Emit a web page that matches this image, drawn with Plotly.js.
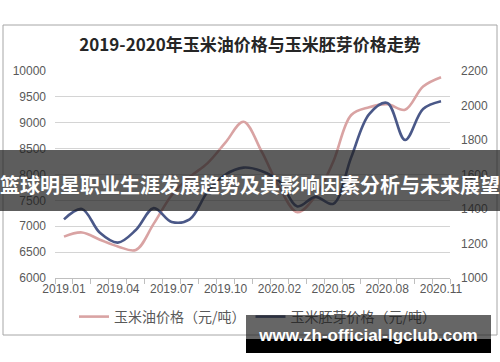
<!DOCTYPE html>
<html>
<head>
<meta charset="utf-8">
<script src="https://cdn.plot.ly/plotly-3.0.1.min.js"></script>
<style>
  html, body { margin: 0; padding: 0; background: #fff; }
  #wrap { position: relative; width: 500px; height: 362px; overflow: hidden; }
  #chart { position: absolute; left: 0; top: 0; width: 500px; height: 362px; }
  .banner { position: absolute; left: 0; top: 150px; width: 500px; height: 61px; background: rgba(30,30,30,0.72); }
  .bannerText { position: absolute; left: 0; top: 172px; width: 500px; height: 26px; line-height: 26px; text-align: center; color: #fff; font-family: "Noto Sans CJK SC", sans-serif; font-weight: bold; font-size: 20px; white-space: nowrap; }
  .wmTop { position: absolute; left: 246px; top: 315px; width: 245px; height: 24px; background: rgba(30,30,30,0.68); }
  .wmBot { position: absolute; left: 246px; top: 339px; width: 245px; height: 14px; background: #000; }
  .wmText { position: absolute; left: 246px; top: 326px; width: 245px; height: 20px; line-height: 20px; text-align: center; color: #fff; font-family: "Liberation Sans", Arial, sans-serif; font-weight: bold; font-size: 17px; white-space: nowrap; }
</style>
</head>
<body>
<div id="wrap">
  <div id="chart"></div>
  <div class="banner"></div>
  <div class="bannerText">篮球明星职业生涯发展趋势及其影响因素分析与未来展望</div>
  <div class="wmTop"></div>
  <div class="wmBot"></div>
  <div class="wmText">www.zh-official-lgclub.com</div>
</div>
<script>
const months = ['2019.01','2019.02','2019.03','2019.04','2019.05','2019.06','2019.07','2019.08','2019.09','2019.10','2019.11','2019.12',
                '2020.02','2020.03','2020.04','2020.05','2020.06','2020.07','2020.08','2020.09','2020.10','2020.11'];
const tickLabels = ['2019.01','','','2019.04','','','2019.07','','','2019.10','','',
                    '2020.02','','','2020.05','','','2020.08','','','2020.11'];
const oilPrice  = [6800,6880,6740,6610,6540,7050,7600,7950,8220,8620,9020,8450,7750,7270,7580,8250,9150,9300,9360,9250,9700,9880];
const germPrice = [1340,1400,1262,1205,1278,1405,1325,1340,1500,1600,1640,1620,1560,1415,1470,1430,1700,1950,2015,1800,1980,2025];
const seriesNames = ['玉米油价格（元/吨）','玉米胚芽价格（元/吨）'];
const titleText = '2019-2020年玉米油价格与玉米胚芽价格走势';

const traces = [
  { x: months, y: oilPrice, name: seriesNames[0], type: 'scatter', mode: 'lines',
    line: { color: '#d9a3a3', width: 2.6, shape: 'spline', smoothing: 1 }, yaxis: 'y' },
  { x: months, y: germPrice, name: seriesNames[1], type: 'scatter', mode: 'lines',
    line: { color: '#4a5888', width: 2.6, shape: 'spline', smoothing: 1 }, yaxis: 'y2' }
];

const px = v => (v - 55) / 395;
const py = v => (278 - v) / 207;

const layout = {
  width: 500, height: 362,
  margin: { l: 55, r: 50, t: 71, b: 84 },
  paper_bgcolor: '#fff', plot_bgcolor: '#fff',
  font: { family: '"Liberation Sans", Arial, sans-serif', color: '#595959', size: 12 },
  title: { text: titleText, font: { family: '"Noto Sans CJK SC", sans-serif', size: 17, color: '#262626', weight: 'bold' },
           x: 0.5, xref: 'container', xanchor: 'center', y: 1 - 45/362, yref: 'container', yanchor: 'middle' },
  showlegend: true,
  legend: { orientation: 'h', x: 0.515, xref: 'container', xanchor: 'center', y: 1 - 317/362, yref: 'container', yanchor: 'middle',
            font: { family: '"Noto Sans CJK SC", sans-serif', size: 14, color: '#595959' }, itemwidth: 30, tracegroupgap: 0, bgcolor: 'rgba(0,0,0,0)' },
  xaxis: { type: 'category', range: [-0.5, 21.5], tickmode: 'array', tickvals: months, ticktext: tickLabels,
           tickson: 'boundaries', ticks: 'outside', ticklen: 5, tickcolor: '#bfbfbf', showline: true, linecolor: '#bfbfbf', linewidth: 1,
           showgrid: false, zeroline: false, tickangle: 0, tickfont: { size: 12, color: '#595959' }, fixedrange: true },
  yaxis: { range: [6000, 10000], tick0: 6000, dtick: 500, tickformat: 'd', exponentformat: 'none', showgrid: true, gridcolor: '#d4d4d4', gridwidth: 1, zeroline: false,
           showline: false, ticks: '', ticklabelstandoff: 8, tickfont: { size: 12, color: '#595959' }, fixedrange: true },
  yaxis2: { range: [1000, 2200], tick0: 1000, dtick: 200, tickformat: 'd', overlaying: 'y', side: 'right', showgrid: false, zeroline: false,
            showline: false, ticks: '', ticklabelstandoff: 10, tickfont: { size: 12, color: '#595959' }, fixedrange: true },
  shapes: [
    { type: 'rect', xref: 'paper', yref: 'paper', x0: px(3), x1: px(497), y0: py(25), y1: py(335),
      line: { color: '#a6a6a6', width: 1 }, fillcolor: 'rgba(0,0,0,0)', layer: 'below' }
  ]
};

Plotly.newPlot('chart', traces, layout, { displayModeBar: false, staticPlot: true });
</script>
</body>
</html>
